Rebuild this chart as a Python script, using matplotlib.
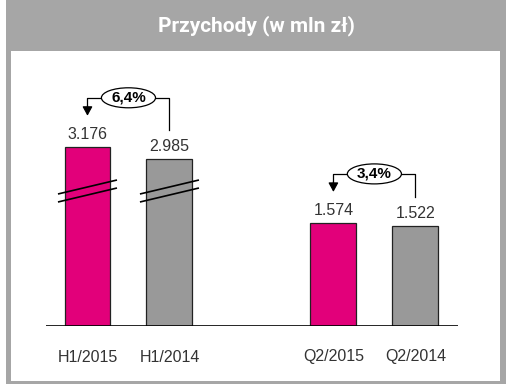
import matplotlib
matplotlib.use("Agg")
import matplotlib.pyplot as plt
from matplotlib.patches import Rectangle, Ellipse
from matplotlib import font_manager as fm

# ---- data ----
title = "Przychody (w mln zł)"
categories = ["H1/2015", "H1/2014", "Q2/2015", "Q2/2014"]
values = [3176, 2985, 1574, 1522]
value_labels = ["3.176", "2.985", "1.574", "1.522"]
x_pos = [0, 1, 3, 4]
broken = [True, True, False, False]
break_offset = 440
changes = ["6,4%", "3,4%"]
change_pairs = [(0, 1), (2, 3)]

MAGENTA = "#E2007A"
GREY = "#999999"
FRAME = "#A6A6A6"
colors = [MAGENTA, GREY, MAGENTA, GREY]

names = {f.name for f in fm.fontManager.ttflist}
narrow = "Liberation Sans Narrow" if "Liberation Sans Narrow" in names else "Liberation Sans"
plt.rcParams["font.family"] = [narrow, "DejaVu Sans"]

W, H = 515, 387
fig = plt.figure(figsize=(W / 100, H / 100), dpi=100)

# frame overlay in pixel coordinates
bg = fig.add_axes([0, 0, 1, 1])
bg.set_xlim(0, W)
bg.set_ylim(H, 0)
bg.axis("off")
bg.add_patch(Rectangle((6, 0), 500, 384, facecolor=FRAME, edgecolor="none"))
bg.add_patch(Rectangle((11, 51), 489, 330, facecolor="white", edgecolor="none"))
bg.text(256, 26, title, ha="center", va="center", color="white",
        fontsize=15, fontweight="bold", family=["Roboto", "DejaVu Sans"])

# chart axes
px_per_unit = 0.0655
base_px = 326
top_px = 60
left_px, right_px = 46, 458
ax = fig.add_axes([left_px / W, (H - base_px) / H, (right_px - left_px) / W,
                   (base_px - top_px) / H])
ax.set_xlim(-0.506, 4.52)
ax.set_ylim(0, (base_px - top_px) / px_per_unit)
ax.axis("off")
ax.patch.set_alpha(0)


def px(p):
    return p / px_per_unit


disp = [v - break_offset if b else v for v, b in zip(values, broken)]
ax.bar(x_pos, disp, width=0.56, color=colors, edgecolor="#222222", linewidth=0.9, zorder=2)
ax.axhline(0, color="black", linewidth=1.2, zorder=3)

for x, d, lab in zip(x_pos, disp, value_labels):
    ax.text(x, d + px(5), lab, ha="center", va="bottom", fontsize=11.5, color="#333333")

for x, cat in zip(x_pos, categories):
    ax.text(x, -px(31), cat, ha="center", va="center", fontsize=11.5, color="#333333")

# break marks
for x, b in zip(x_pos, broken):
    if b:
        for yc in (px(326 - 187), px(326 - 195)):
            ax.plot([x - 0.36, x + 0.36], [yc - px(7), yc + px(7)],
                    color="black", linewidth=1.2, zorder=4, solid_capstyle="butt")

# change brackets
for (i, j), txt in zip(change_pairs, changes):
    top = max(disp[i], disp[j])
    lvl = top + px(49)
    xi, xj = x_pos[i], x_pos[j]
    xm = (xi + xj) / 2
    ew = 0.66
    ax.plot([xj, xj, xm + ew / 2], [disp[j] + px(29), lvl, lvl], color="black", lw=0.9)
    ax.plot([xm - ew / 2, xi, xi], [lvl, lvl, top + px(40)], color="black", lw=0.9)
    ax.annotate("", xy=(xi, top + px(31)), xytext=(xi, top + px(41)),
                arrowprops=dict(arrowstyle="-|>,head_length=0.55,head_width=0.3",
                                color="black", lw=0.9, shrinkA=0, shrinkB=0))
    ax.add_patch(Ellipse((xm, lvl), ew, px(20), facecolor="white",
                         edgecolor="black", linewidth=0.9, zorder=5))
    ax.text(xm, lvl, txt, ha="center", va="center", fontsize=11,
            fontweight="bold", zorder=6)

fig.savefig("out.png", dpi=100)
